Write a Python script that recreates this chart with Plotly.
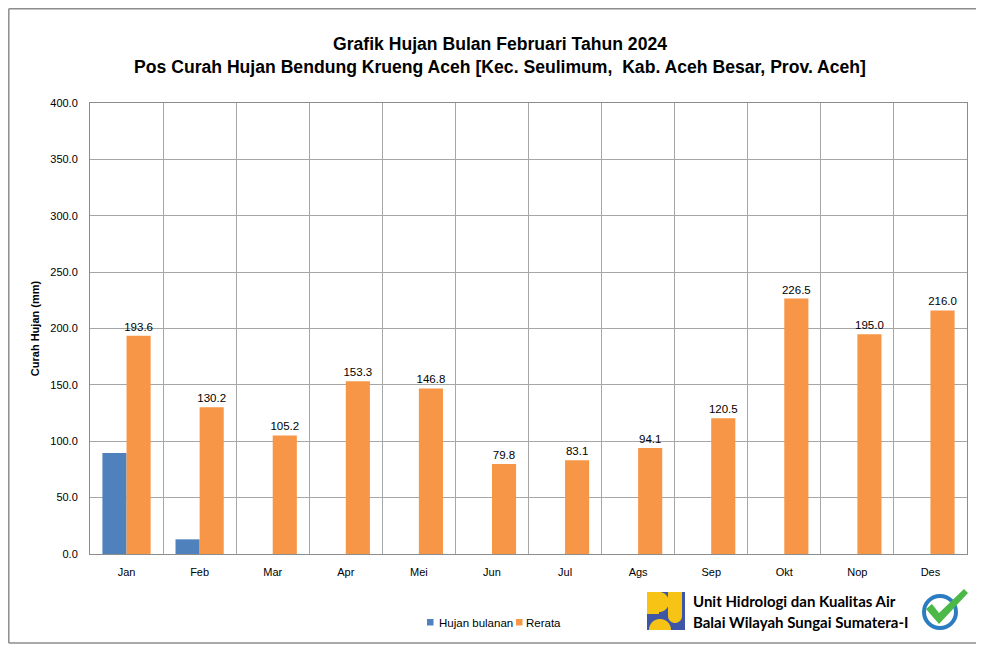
import math
import plotly.graph_objects as go

months = ["Jan", "Feb", "Mar", "Apr", "Mei", "Jun", "Jul", "Ags", "Sep", "Okt", "Nop", "Des"]
hujan_bulanan = [89.5, 13.0, None, None, None, None, None, None, None, None, None, None]
rerata = [193.6, 130.2, 105.2, 153.3, 146.8, 79.8, 83.1, 94.1, 120.5, 226.5, 195.0, 216.0]
y_ticks = [0, 50, 100, 150, 200, 250, 300, 350, 400]
series_names = ["Hujan bulanan", "Rerata"]
series_colors = ["#4F81BD", "#F79646"]

OFF = 8  # page body margin
W, H = 984 - OFF, 645 - OFF
ML, MR, MT, MB = 90 - OFF, 17, 103 - OFF, 91
PW, PH = W - ML - MR, H - MT - MB


def px(x):
    return (x - OFF - ML) / PW


def py(y):
    return (H - MB - (y - OFF)) / PH


def poly(points):
    return "M " + " L ".join(f"{px(a):.5f},{py(b):.5f}" for a, b in points) + " Z"


def arc(cx, cy, r, a0, a1, n=24):
    return [(cx + r * math.cos(math.radians(a0 + (a1 - a0) * i / n)),
             cy + r * math.sin(math.radians(a0 + (a1 - a0) * i / n))) for i in range(n + 1)]


fig = go.Figure()
fig.add_trace(go.Bar(x=months, y=hujan_bulanan, name=series_names[0],
                     marker_color=series_colors[0], marker_line_width=0, showlegend=False))
fig.add_trace(go.Bar(x=months, y=rerata, name=series_names[1], marker_color=series_colors[1],
                     marker_line_width=0, showlegend=False,
                     text=[f"{v:.1f}" for v in rerata], textposition="outside", constraintext="none",
                     textfont=dict(size=11.5, color="#000000", family="Liberation Sans"),
                     cliponaxis=False))

shapes = []
# outer border (drawn as separate lines, as close to the window edge as the page allows)
bl, bt, br, bb = OFF + 0.8, OFF + 0.8, 981, 643
for x0, y0, x1, y1 in [(bl, bt, br, bt), (br, bt, br, bb), (bl, bb, br, bb), (bl, bt, bl, bb)]:
    shapes.append(dict(type="line", xref="paper", yref="paper", x0=px(x0), x1=px(x1), y0=py(y0), y1=py(y1),
                       line=dict(color="#8C8C8C", width=1.5)))

# manual legend
annotations = []
leg = [(427, 437), (516, 524)]
for (sx, tx), name, col in zip(leg, series_names, series_colors):
    shapes.append(dict(type="rect", xref="paper", yref="paper", x0=px(sx), x1=px(sx + 6.5),
                       y0=py(625.5), y1=py(619), line=dict(width=0), fillcolor=col))
    annotations.append(dict(text=name, xref="paper", yref="paper", x=px(tx), y=py(622.5),
                            xanchor="left", yanchor="middle", showarrow=False,
                            font=dict(family="Liberation Sans", size=11.5, color="#000000")))

# PU logo
lx, ly, s = 647, 592, 38
shapes.append(dict(type="rect", xref="paper", yref="paper", x0=px(lx), x1=px(lx + s), y0=py(ly + s), y1=py(ly),
                   line=dict(width=0), fillcolor="#3F56A6"))
pts = [(lx, ly), (lx + 12, ly)] + arc(lx + 12, ly + 10, 10, -90, 90) + [(lx + 12, ly + 22), (lx, ly + 22)]
shapes.append(dict(type="path", xref="paper", yref="paper", path=poly(pts), line=dict(width=0), fillcolor="#F7C416"))
pts = arc(lx + 13, ly + s, 11, 180, 360)
shapes.append(dict(type="path", xref="paper", yref="paper", path=poly(pts), line=dict(width=0), fillcolor="#F7C416"))
pts = [(lx + 21, ly), (lx + 35, ly), (lx + 35, ly + 24)] + arc(lx + 28, ly + 24, 7, 0, 180)[1:] + [(lx + 21, ly + 24)]
shapes.append(dict(type="path", xref="paper", yref="paper", path=poly(pts), line=dict(width=0), fillcolor="#F7C416"))

# certified badge
cx, cy, r = 940, 612, 16
shapes.append(dict(type="circle", xref="paper", yref="paper", x0=px(cx - r), x1=px(cx + r), y0=py(cy + r), y1=py(cy - r),
                   line=dict(color="#2C7CC1", width=4), fillcolor="white"))
pts = [(926, 609), (932, 604), (939, 613), (964, 589), (968, 593), (939, 624)]
shapes.append(dict(type="path", xref="paper", yref="paper", path=poly(pts), line=dict(width=0), fillcolor="#4CB848"))

annotations += [
    dict(text="Unit Hidrologi dan Kualitas Air", xref="paper", yref="paper", x=px(691), y=py(601),
         xanchor="left", yanchor="middle", showarrow=False,
         font=dict(family="Lato", size=15, color="#000000", weight="bold")),
    dict(text="Balai Wilayah Sungai Sumatera-I", xref="paper", yref="paper", x=px(691), y=py(622),
         xanchor="left", yanchor="middle", showarrow=False,
         font=dict(family="Lato", size=15, color="#000000", weight="bold")),
]

fig.update_layout(
    width=W, height=H,
    margin=dict(l=ML, r=MR, t=MT, b=MB),
    paper_bgcolor="white", plot_bgcolor="white",
    barmode="group", bargap=0.34, bargroupgap=0,
    title=dict(text="Grafik Hujan Bulan Februari Tahun 2024<br>Pos Curah Hujan Bendung Krueng Aceh [Kec. Seulimum,  Kab. Aceh Besar, Prov. Aceh]",
               x=(500 - OFF) / W, xref="container", xanchor="center", y=1 - 42 / H, yref="container", yanchor="top",
               font=dict(family="Liberation Sans", size=17.6, color="#000000", weight="bold")),
    font=dict(family="Liberation Sans", size=11, color="#000000"),
    xaxis=dict(type="category", tickson="boundaries", showgrid=True, gridcolor="#A6A6A6", gridwidth=1,
               showline=True, linecolor="#8C8C8C", mirror=True, ticks="", ticklabelstandoff=8,
               tickfont=dict(size=11, color="#000000")),
    yaxis=dict(range=[0, 400], tickvals=y_ticks, ticktext=[f"{v:.1f}" for v in y_ticks],
               showgrid=True, gridcolor="#A6A6A6", gridwidth=1, zeroline=False,
               showline=True, linecolor="#8C8C8C", mirror=True, ticks="", ticklabelstandoff=9,
               tickfont=dict(size=11, color="#000000"),
               title=dict(text="Curah Hujan (mm)", standoff=8, font=dict(size=11, weight="bold"))),
    showlegend=False,
    shapes=shapes, annotations=annotations,
)

fig.write_html("out.html")
